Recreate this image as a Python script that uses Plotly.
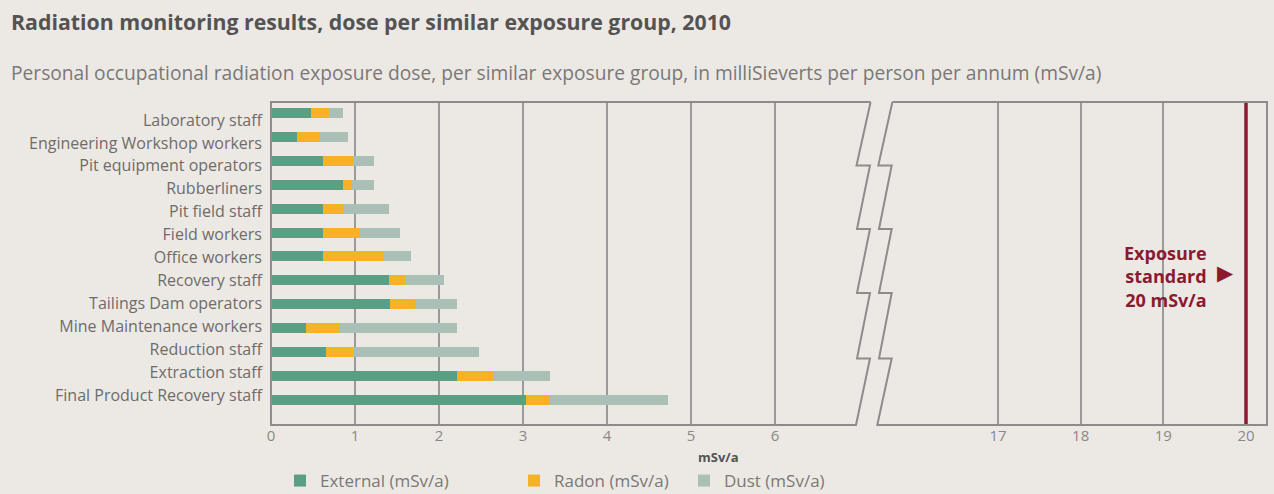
import plotly.graph_objects as go

# ---- data ----
groups = ["Laboratory staff", "Engineering Workshop workers", "Pit equipment operators",
          "Rubberliners", "Pit field staff", "Field workers", "Office workers",
          "Recovery staff", "Tailings Dam operators", "Mine Maintenance workers",
          "Reduction staff", "Extraction staff", "Final Product Recovery staff"]
external = [0.48, 0.31, 0.62, 0.86, 0.62, 0.62, 0.62, 1.41, 1.42, 0.42, 0.65, 2.21, 3.04]
radon    = [0.21, 0.27, 0.36, 0.10, 0.24, 0.44, 0.72, 0.18, 0.29, 0.39, 0.33, 0.44, 0.28]
dust     = [0.17, 0.34, 0.25, 0.27, 0.55, 0.47, 0.33, 0.47, 0.50, 1.40, 1.50, 0.67, 1.41]
left_ticks = [0, 1, 2, 3, 4, 5, 6]
right_ticks = [17, 18, 19, 20]
exposure_standard = 20

# ---- layout constants ----
W, H = 1274, 494
def fx(px): return px / W
def fy(py): return 1 - py / H

BG = "#ECE9E5"
GREEN = "#5A9F84"
ORANGE = "#F4B325"
DUSTC = "#AAC0B6"
GRID = "#9C9A98"
FRAME = "#8E8C8A"
RED = "#8B1A30"
FONT = "Open Sans"

fig = go.Figure()
for name, vals, col, lg in [("External (mSv/a)", external, GREEN, "legend"),
                            ("Radon (mSv/a)", radon, ORANGE, "legend2"),
                            ("Dust (mSv/a)", dust, DUSTC, "legend3")]:
    fig.add_trace(go.Bar(y=groups, x=vals, orientation="h", name=name,
                         marker=dict(color=col, line=dict(width=0)),
                         width=0.42, xaxis="x", yaxis="y", legend=lg))

# category labels on their own (slightly tighter) row pitch, as in the original artwork
fig.add_trace(go.Scatter(y=groups, x=[0] * len(groups), mode="markers",
                         marker=dict(opacity=0), xaxis="x", yaxis="y3",
                         showlegend=False, hoverinfo="skip"))

# exposure standard line on the right panel
fig.add_trace(go.Scatter(x=[exposure_standard, exposure_standard], y=[0, 1],
                         mode="lines", line=dict(color=RED, width=3.5),
                         xaxis="x2", yaxis="y2", showlegend=False, hoverinfo="skip"))

top, bot = 102, 425
left0, left1 = 271, 870
right0, right1 = 892, 1267
lab_first, lab_last = 120, 395
lab_step = (lab_last - lab_first) / (len(groups) - 1)

legend_common = dict(yanchor="top", xanchor="left", bgcolor="rgba(0,0,0,0)",
                     font=dict(size=17, color="#7A7876", family=FONT), itemwidth=30)

fig.update_layout(
    width=W, height=H, paper_bgcolor=BG, plot_bgcolor=BG,
    margin=dict(l=0, r=0, t=0, b=0, autoexpand=False), barmode="stack",
    font=dict(family=FONT, color="#6E6C6A", size=14),
    xaxis=dict(domain=[fx(left0), fx(left1)], range=[0, (left1 - left0) / 84],
               tickvals=left_ticks, showgrid=True, gridcolor=GRID, gridwidth=1.5,
               zeroline=False, showline=False, ticks="",
               tickfont=dict(size=15, color="#8A8886"), anchor="y", automargin=False),
    yaxis=dict(domain=[fy(bot), fy(top)], categoryorder="array", categoryarray=groups,
               range=[12 + 1.05, -0.46], showgrid=False, zeroline=False, ticks="",
               showticklabels=False, anchor="x", automargin=False),
    yaxis3=dict(domain=[fy(bot), fy(top)], overlaying="y", anchor="x", side="left",
                type="category", categoryorder="array", categoryarray=groups,
                range=[len(groups) - 1 + (bot - lab_last) / lab_step, -(lab_first - top) / lab_step],
                showgrid=False, zeroline=False, ticks="", ticklabelstandoff=8,
                tickfont=dict(size=16, color="#6E6C6A"), automargin=False),
    xaxis2=dict(domain=[fx(right0), fx(right1)],
                range=[17 - (998 - right0) / 82.67, 20 + (right1 - 1246) / 82.67],
                tickvals=right_ticks, showgrid=True, gridcolor=GRID, gridwidth=1.5,
                zeroline=False, showline=False, ticks="",
                tickfont=dict(size=15, color="#8A8886"), anchor="y2", automargin=False),
    yaxis2=dict(domain=[fy(bot), fy(top)], range=[0, 1], visible=False, anchor="x2"),
    legend=dict(x=fx(280), y=fy(463), **legend_common),
    legend2=dict(x=fx(514), y=fy(463), **legend_common),
    legend3=dict(x=fx(684), y=fy(463), **legend_common),
)

# frames with broken-axis zigzags (decorative)
def path(points):
    return "M " + " L ".join(f"{fx(x):.5f},{fy(y):.5f}" for x, y in points)

left_frame = [(870.6, top), (left0, top), (left0, bot), (856.0, bot),
              (870.0, 358.5), (857.0, 358.5), (870.0, 293), (857.0, 293),
              (870.0, 229), (857.0, 229), (870.0, 165.5), (856.5, 165.5), (870.6, top)]
right_frame = [(892.4, top), (right1, top), (right1, bot), (877.3, bot),
               (891.7, 358.5), (879.0, 358.5), (891.7, 293), (879.0, 293),
               (891.7, 229), (879.0, 229), (891.7, 165.5), (878.3, 165.5), (892.4, top)]
for pts in (left_frame, right_frame):
    fig.add_shape(type="path", path=path(pts), xref="paper", yref="paper",
                  line=dict(color=FRAME, width=2), layer="above")

# texts
fig.add_annotation(x=fx(9), y=fy(22), xref="paper", yref="paper", xanchor="left", yanchor="middle",
                   text="<b>Radiation monitoring results, dose per similar exposure group, 2010</b>",
                   showarrow=False, font=dict(size=21.3, color="#555351", family=FONT))
fig.add_annotation(x=fx(9), y=fy(72), xref="paper", yref="paper", xanchor="left", yanchor="middle",
                   text="Personal occupational radiation exposure dose, per similar exposure group, in milliSieverts per person per annum (mSv/a)",
                   showarrow=False, font=dict(size=19.2, color="#7A7876", family=FONT))
fig.add_annotation(x=fx(718), y=fy(457), xref="paper", yref="paper", xanchor="center", yanchor="middle",
                   text="<b>mSv/a</b>", showarrow=False, font=dict(size=13, color="#555351", family=FONT))
fig.add_annotation(x=fx(1209), y=fy(276), xref="paper", yref="paper", xanchor="right", yanchor="middle",
                   text="<b>Exposure<br>standard<br>20 mSv/a</b>", align="right", showarrow=False,
                   font=dict(size=18, color=RED, family=FONT))
fig.add_annotation(x=fx(1225), y=fy(273), xref="paper", yref="paper", xanchor="center", yanchor="middle",
                   text="▶", showarrow=False, font=dict(size=21, color=RED, family="DejaVu Sans"))

fig.write_html("out.html")
